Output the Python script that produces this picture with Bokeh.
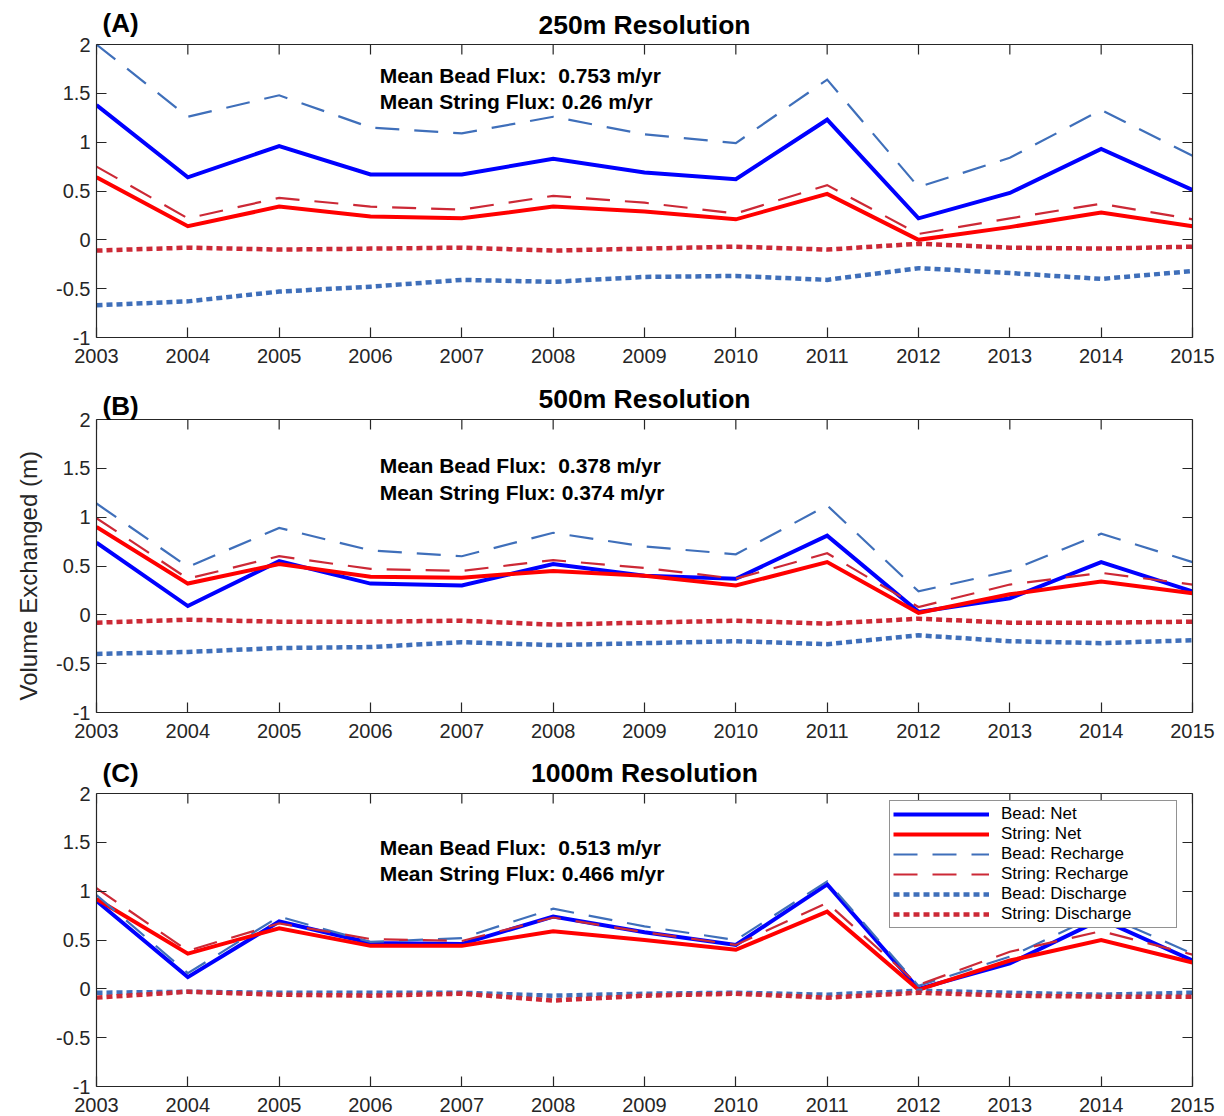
from bokeh.plotting import figure
from bokeh.layouts import column
from bokeh.models import (Range1d, FixedTicker, LinearAxis, Label, Legend, Span, Title,
                          LegendItem, CustomJSTickFormatter)
from bokeh.embed import file_html
from bokeh.resources import INLINE

years = list(range(2003, 2016))
y_ticks = [-1, -0.5, 0, 0.5, 1, 1.5, 2]

# ---- 250 m resolution ----
bead_net_250 = [1.38, 0.64, 0.96, 0.67, 0.67, 0.83, 0.69, 0.62, 1.23, 0.22, 0.48, 0.93, 0.51]
string_net_250 = [0.64, 0.14, 0.34, 0.24, 0.22, 0.34, 0.29, 0.21, 0.47, 0.00, 0.13, 0.28, 0.14]
bead_rech_250 = [2.00, 1.26, 1.48, 1.15, 1.09, 1.26, 1.08, 0.99, 1.64, 0.54, 0.84, 1.33, 0.86]
string_rech_250 = [0.75, 0.22, 0.43, 0.34, 0.31, 0.45, 0.38, 0.27, 0.56, 0.06, 0.22, 0.37, 0.21]
bead_dis_250 = [-0.67, -0.63, -0.53, -0.48, -0.41, -0.43, -0.38, -0.37, -0.41, -0.29, -0.34, -0.40, -0.32]
string_dis_250 = [-0.11, -0.08, -0.10, -0.09, -0.08, -0.11, -0.09, -0.07, -0.10, -0.04, -0.08, -0.09, -0.07]

# ---- 500 m resolution ----
bead_net_500 = [0.74, 0.09, 0.55, 0.32, 0.30, 0.52, 0.40, 0.37, 0.81, 0.03, 0.17, 0.54, 0.24]
string_net_500 = [0.90, 0.32, 0.52, 0.39, 0.38, 0.45, 0.40, 0.30, 0.54, 0.02, 0.21, 0.34, 0.22]
bead_rech_500 = [1.14, 0.49, 0.89, 0.66, 0.60, 0.84, 0.70, 0.62, 1.12, 0.24, 0.45, 0.83, 0.54]
string_rech_500 = [0.99, 0.37, 0.60, 0.47, 0.45, 0.56, 0.48, 0.37, 0.63, 0.08, 0.31, 0.43, 0.31]
bead_dis_500 = [-0.40, -0.38, -0.34, -0.33, -0.28, -0.31, -0.29, -0.27, -0.30, -0.21, -0.27, -0.29, -0.26]
string_dis_500 = [-0.08, -0.05, -0.07, -0.07, -0.06, -0.10, -0.08, -0.06, -0.09, -0.04, -0.08, -0.08, -0.07]

# ---- 1000 m resolution ----
bead_net_1000 = [0.90, 0.12, 0.69, 0.47, 0.46, 0.74, 0.58, 0.45, 1.07, 0.00, 0.26, 0.71, 0.29]
string_net_1000 = [0.92, 0.36, 0.62, 0.44, 0.44, 0.59, 0.50, 0.40, 0.79, -0.01, 0.29, 0.50, 0.27]
bead_rech_1000 = [0.96, 0.16, 0.74, 0.48, 0.52, 0.82, 0.64, 0.50, 1.10, 0.03, 0.33, 0.77, 0.36]
string_rech_1000 = [1.03, 0.39, 0.67, 0.51, 0.49, 0.73, 0.58, 0.45, 0.88, 0.04, 0.38, 0.59, 0.35]
bead_dis_1000 = [-0.04, -0.03, -0.04, -0.04, -0.04, -0.07, -0.05, -0.04, -0.06, -0.02, -0.04, -0.06, -0.04]
string_dis_1000 = [-0.09, -0.03, -0.06, -0.07, -0.05, -0.12, -0.07, -0.05, -0.09, -0.04, -0.07, -0.08, -0.08]

panel_letters = ["(A)", "(B)", "(C)"]
panel_titles = ["250m Resolution", "500m Resolution", "1000m Resolution"]
bead_flux_text = ["Mean Bead Flux:\u00a0 0.753 m/yr", "Mean Bead Flux:\u00a0 0.378 m/yr",
                  "Mean Bead Flux:\u00a0 0.513 m/yr"]
string_flux_text = ["Mean String Flux: 0.26 m/yr", "Mean String Flux: 0.374 m/yr",
                    "Mean String Flux: 0.466 m/yr"]
legend_labels = ["Bead: Net", "String: Net", "Bead: Recharge", "String: Recharge",
                 "Bead: Discharge", "String: Discharge"]
y_label = "Volume Exchanged (m)"

FONT = "Liberation Sans"
AX = "#262626"
BLUE = "#0000FF"
RED = "#FF0000"
BLUE2 = "#3F6FBA"
RED2 = "#CC2936"

styles = [
    dict(line_color=BLUE, line_width=4),
    dict(line_color=RED, line_width=4),
    dict(line_color=BLUE2, line_width=2.2, line_dash="24 15"),
    dict(line_color=RED2, line_width=2.2, line_dash="24 15"),
    dict(line_color=BLUE2, line_width=4.5, line_dash="6 4"),
    dict(line_color=RED2, line_width=4.5, line_dash="6 4"),
]

panels_data = [
    [bead_net_250, string_net_250, bead_rech_250, string_rech_250, bead_dis_250, string_dis_250],
    [bead_net_500, string_net_500, bead_rech_500, string_rech_500, bead_dis_500, string_dis_500],
    [bead_net_1000, string_net_1000, bead_rech_1000, string_rech_1000, bead_dis_1000, string_dis_1000],
]
# vertical centres (data units) of the two flux text lines
flux_y = [(1.68, 1.415), (1.53, 1.256), (1.45, 1.18)]

# layout (pixels)
LEFT, RIGHT, FRAME_W = 96, 28, 1096
AXIS_H = 293                 # pixel height of the -1..2 box
ABOVE = 44                   # title room inside the frame, above the box
PX = 3.0 / AXIS_H            # data units per pixel
Y_LO, Y_HI = -1, 2
plot_bottom = [38, 37, 28]
title_off = [20, 21, 21]     # title centre, px above the box top
letter_off = [22, 14, 21]    # panel letter centre, px above the box top
TICK = 10


def style_axis(ax, show_labels=True):
    ax.major_tick_in = TICK
    ax.major_tick_out = 0
    ax.minor_tick_line_color = None
    ax.axis_line_color = AX
    ax.axis_line_width = 1.2
    ax.major_tick_line_color = AX
    ax.major_tick_line_width = 1.2
    if show_labels:
        ax.major_label_text_font = FONT
        ax.major_label_text_font_size = "20px"
        ax.major_label_text_color = AX
    else:
        ax.major_label_text_font_size = "0px"
        ax.major_label_text_color = None
        ax.major_label_standoff = 0


figs = []
for i in range(3):
    last = (i == 2)
    y_top = Y_HI + ABOVE * PX
    p = figure(frame_width=FRAME_W, frame_height=AXIS_H + ABOVE,
               x_range=Range1d(2003, 2015), y_range=Range1d(Y_LO, y_top),
               output_backend="svg", toolbar_location=None,
               min_border_left=LEFT, min_border_right=RIGHT, min_border_top=0,
               min_border_bottom=plot_bottom[i],
               background_fill_color="white", border_fill_color="white")
    p.xgrid.visible = False
    p.ygrid.visible = False
    p.outline_line_color = None

    p.xaxis.ticker = FixedTicker(ticks=years)
    p.yaxis.ticker = FixedTicker(ticks=y_ticks)
    p.yaxis.bounds = (Y_LO, Y_HI)
    p.yaxis.formatter = CustomJSTickFormatter(code="return tick.toString();")
    p.xaxis.formatter = CustomJSTickFormatter(code="return tick.toString();")
    style_axis(p.xaxis[0])
    style_axis(p.yaxis[0])
    p.xaxis.major_label_standoff = 11
    p.yaxis.major_label_standoff = 6

    right_ax = LinearAxis(ticker=FixedTicker(ticks=y_ticks), bounds=(Y_LO, Y_HI))
    style_axis(right_ax, show_labels=False)
    p.add_layout(right_ax, "right")

    # top edge of the box with inward ticks
    p.add_layout(Span(location=Y_HI, dimension="width", line_color=AX, line_width=1.2))
    p.segment(x0=years, y0=[Y_HI] * len(years), x1=years,
              y1=[Y_HI - TICK * PX] * len(years), line_color=AX, line_width=1.2)

    if i == 1:
        # y label anchored at the bottom of the box (reads upward)
        p.add_layout(Title(text=y_label, align="left", offset=12, standoff=22,
                           vertical_align="middle",
                           text_font=FONT, text_font_size="24px",
                           text_font_style="normal", text_color=AX), "left")

    renderers = []
    for series, st in zip(panels_data[i], styles):
        r = p.line(years, series, line_cap="butt", line_join="miter", **st)
        renderers.append(r)

    p.add_layout(Label(x=2009, y=Y_HI + title_off[i] * PX, text=panel_titles[i],
                       text_font=FONT, text_font_size="26.5px", text_font_style="bold",
                       text_align="center", text_baseline="middle", text_color="black"))
    p.add_layout(Label(x=2003, y=Y_HI + letter_off[i] * PX, x_offset=6, text=panel_letters[i],
                       text_font=FONT, text_font_size="26px", text_font_style="bold",
                       text_align="left", text_baseline="middle", text_color="black"))
    p.add_layout(Label(x=2006.1, y=flux_y[i][0], text=bead_flux_text[i],
                       text_font=FONT, text_font_size="21px", text_font_style="bold",
                       text_baseline="middle", text_color="black"))
    p.add_layout(Label(x=2006.1, y=flux_y[i][1], text=string_flux_text[i],
                       text_font=FONT, text_font_size="21px", text_font_style="bold",
                       text_baseline="middle", text_color="black"))

    if last:
        items = [LegendItem(label=lab, renderers=[r]) for lab, r in zip(legend_labels, renderers)]
        legend = Legend(items=items, location=(793, 158), margin=0, padding=3,
                        spacing=0, glyph_width=96, glyph_height=18, label_height=18,
                        label_standoff=12, label_width=172,
                        label_text_font=FONT, label_text_font_size="17px",
                        label_text_color="black",
                        border_line_color=AX, border_line_width=1.2,
                        background_fill_color="white", background_fill_alpha=1.0)
        p.add_layout(legend, "center")
    figs.append(p)

layout = column(*figs, spacing=0)
open("out.html", "w").write(file_html(layout, INLINE))
